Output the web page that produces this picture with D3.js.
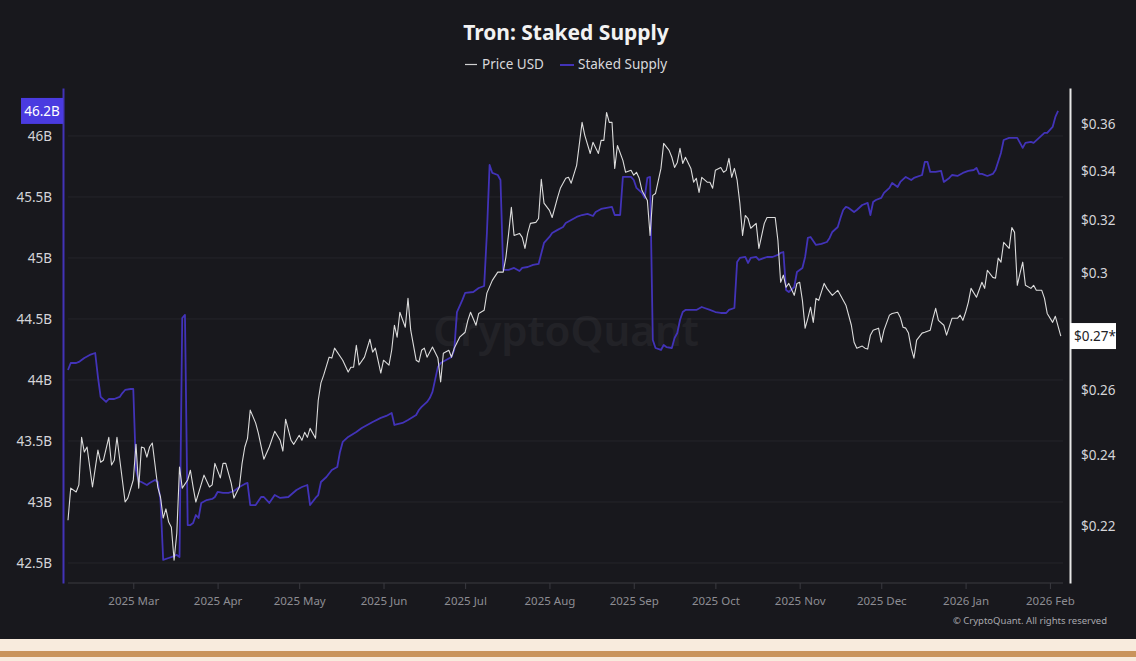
<!DOCTYPE html>
<html>
<head>
<meta charset="utf-8">
<script src="https://cdn.jsdelivr.net/npm/d3@7"></script>
<style>
  html, body { margin: 0; padding: 0; background: #f8ebdd; }
  svg { display: block; font-family: "Noto Sans", sans-serif; }
</style>
</head>
<body>
<svg id="canvas"></svg>
<script>
// one line per month so dates and values stay in step
let priceDates = [
  "2025-02-05","2025-02-06","2025-02-08","2025-02-09","2025-02-10","2025-02-11","2025-02-12","2025-02-14","2025-02-16","2025-02-17","2025-02-18","2025-02-20","2025-02-21","2025-02-22","2025-02-23","2025-02-26","2025-02-27",
  "2025-03-01","2025-03-02","2025-03-03","2025-03-04","2025-03-05","2025-03-06","2025-03-07","2025-03-08","2025-03-10","2025-03-11","2025-03-12","2025-03-13","2025-03-14","2025-03-15","2025-03-16","2025-03-17","2025-03-18","2025-03-19","2025-03-21","2025-03-22","2025-03-23","2025-03-24","2025-03-25","2025-03-27","2025-03-29","2025-03-30","2025-03-31",
  "2025-04-02","2025-04-03","2025-04-04","2025-04-06","2025-04-07","2025-04-09","2025-04-10","2025-04-11","2025-04-12","2025-04-13","2025-04-15","2025-04-16","2025-04-18","2025-04-20","2025-04-22","2025-04-24","2025-04-25","2025-04-26","2025-04-28","2025-04-29",
  "2025-05-01","2025-05-02","2025-05-03","2025-05-04","2025-05-05","2025-05-07","2025-05-08","2025-05-09","2025-05-10","2025-05-12","2025-05-13","2025-05-14","2025-05-17","2025-05-19","2025-05-20","2025-05-21","2025-05-22","2025-05-23","2025-05-25","2025-05-27","2025-05-28","2025-05-29","2025-05-31",
  "2025-06-01","2025-06-03","2025-06-04","2025-06-05","2025-06-06","2025-06-07","2025-06-09","2025-06-10","2025-06-11","2025-06-13","2025-06-14","2025-06-15","2025-06-16","2025-06-17","2025-06-19","2025-06-21","2025-06-22","2025-06-23","2025-06-25","2025-06-26","2025-06-27","2025-06-29",
  "2025-07-01","2025-07-02","2025-07-03","2025-07-05","2025-07-06","2025-07-08","2025-07-09","2025-07-11","2025-07-13","2025-07-15","2025-07-16","2025-07-17","2025-07-18","2025-07-19","2025-07-21","2025-07-22","2025-07-23","2025-07-24","2025-07-25","2025-07-27","2025-07-28","2025-07-29","2025-07-30",
  "2025-08-01","2025-08-02","2025-08-04","2025-08-05","2025-08-07","2025-08-08","2025-08-09","2025-08-11","2025-08-13","2025-08-14","2025-08-16","2025-08-17","2025-08-19","2025-08-20","2025-08-21","2025-08-22","2025-08-23","2025-08-24","2025-08-25","2025-08-26","2025-08-28","2025-08-29","2025-08-31",
  "2025-09-01","2025-09-02","2025-09-03","2025-09-04","2025-09-06","2025-09-07","2025-09-08","2025-09-09","2025-09-11","2025-09-12","2025-09-14","2025-09-15","2025-09-16","2025-09-17","2025-09-18","2025-09-19","2025-09-20","2025-09-22","2025-09-23","2025-09-24","2025-09-25","2025-09-26","2025-09-28","2025-09-29","2025-09-30",
  "2025-10-01","2025-10-03","2025-10-04","2025-10-05","2025-10-06","2025-10-07","2025-10-08","2025-10-09","2025-10-10","2025-10-11","2025-10-12","2025-10-13","2025-10-14","2025-10-16","2025-10-17","2025-10-19","2025-10-20","2025-10-22","2025-10-23","2025-10-24","2025-10-25","2025-10-26","2025-10-27","2025-10-28","2025-10-30","2025-10-31",
  "2025-11-01","2025-11-02","2025-11-03","2025-11-04","2025-11-05","2025-11-06","2025-11-07","2025-11-08","2025-11-10","2025-11-11","2025-11-13","2025-11-15","2025-11-16","2025-11-18","2025-11-20","2025-11-21","2025-11-22","2025-11-24","2025-11-25","2025-11-26","2025-11-27","2025-11-28","2025-11-30",
  "2025-12-01","2025-12-02","2025-12-04","2025-12-05","2025-12-07","2025-12-08","2025-12-09","2025-12-10","2025-12-11","2025-12-12","2025-12-13","2025-12-14","2025-12-16","2025-12-17","2025-12-19","2025-12-20","2025-12-21","2025-12-22","2025-12-24","2025-12-25","2025-12-27","2025-12-29","2025-12-30","2025-12-31",
  "2026-01-01","2026-01-02","2026-01-03","2026-01-05","2026-01-07","2026-01-08","2026-01-09","2026-01-11","2026-01-12","2026-01-13","2026-01-14","2026-01-15","2026-01-17","2026-01-18","2026-01-19","2026-01-20","2026-01-21","2026-01-22","2026-01-23","2026-01-25","2026-01-26","2026-01-27","2026-01-29","2026-01-30","2026-01-31",
  "2026-02-02","2026-02-03","2026-02-05"
]

let priceValues = [
  0.2217,0.2306,0.2295,0.2315,0.2454,0.2410,0.2425,0.2309,0.2416,0.2380,0.2386,0.2454,0.2372,0.2386,0.2454,0.2267,0.2278,
  0.2329,0.2433,0.2306,0.2425,0.2422,0.2395,0.2425,0.2437,0.2309,0.2281,0.2223,0.2248,0.2212,0.2198,0.2111,0.2182,0.2366,0.2306,0.2329,0.2357,0.2309,0.2267,0.2292,0.2343,0.2309,0.2315,0.2377,
  0.2335,0.2377,0.2377,0.2320,0.2278,0.2309,0.2377,0.2425,0.2451,0.2537,0.2497,0.2466,0.2389,0.2425,0.2472,0.2445,0.2413,0.2509,0.2445,0.2433,
  0.2460,0.2445,0.2469,0.2454,0.2481,0.2451,0.2568,0.2623,0.2648,0.2707,0.2704,0.2737,0.2697,0.2658,0.2674,0.2674,0.2747,0.2681,0.2707,0.2767,0.2724,0.2737,0.2655,
  0.2697,0.2681,0.2730,0.2815,0.2774,0.2860,0.2808,0.2909,0.2798,0.2697,0.2691,0.2730,0.2737,0.2707,0.2741,0.2704,0.2626,0.2720,0.2730,0.2707,0.2737,0.2774,
  0.2791,0.2832,0.2860,0.2815,0.2856,0.2867,0.2928,0.2974,0.3004,0.3004,0.3060,0.3150,0.3252,0.3142,0.3150,0.3135,0.3093,0.3150,0.3189,0.3193,0.3208,0.3366,0.3269,
  0.3240,0.3212,0.3292,0.3329,0.3370,0.3374,0.3350,0.3424,0.3609,0.3552,0.3474,0.3522,0.3474,0.3530,0.3530,0.3653,0.3609,0.3609,0.3411,0.3508,0.3445,0.3395,0.3403,
  0.3383,0.3395,0.3370,0.3321,0.3280,0.3142,0.3300,0.3308,0.3411,0.3517,0.3487,0.3458,0.3415,0.3436,0.3496,0.3432,0.3458,0.3411,0.3354,0.3370,0.3312,0.3374,0.3354,0.3354,0.3329,
  0.3403,0.3415,0.3395,0.3403,0.3453,0.3374,0.3411,0.3362,0.3269,0.3142,0.3220,0.3208,0.3170,0.3189,0.3093,0.3189,0.3212,0.3212,0.3212,0.3123,0.2967,0.2993,0.2949,0.2963,0.2920,0.2963,
  0.2967,0.2902,0.2805,0.2839,0.2878,0.2825,0.2909,0.2902,0.2963,0.2945,0.2920,0.2938,0.2920,0.2885,0.2815,0.2757,0.2737,0.2744,0.2737,0.2734,0.2781,0.2798,0.2805,
  0.2757,0.2798,0.2850,0.2856,0.2860,0.2842,0.2808,0.2805,0.2788,0.2737,0.2704,0.2764,0.2788,0.2791,0.2798,0.2839,0.2874,0.2832,0.2815,0.2781,0.2839,0.2839,0.2850,0.2832,
  0.2860,0.2895,0.2945,0.2913,0.2967,0.2945,0.3011,0.2985,0.2982,0.3056,0.3041,0.3116,0.3093,0.3173,0.3154,0.2956,0.3000,0.3041,0.2956,0.2945,0.2956,0.2938,0.2938,0.2909,0.2856,
  0.2825,0.2846,0.2778
]

let stakedDates = [
  "2025-02-05","2025-02-06","2025-02-08","2025-02-09","2025-02-10","2025-02-11","2025-02-13","2025-02-15","2025-02-16","2025-02-17","2025-02-19","2025-02-20","2025-02-22","2025-02-24","2025-02-25","2025-02-26","2025-02-28",
  "2025-03-01","2025-03-02","2025-03-03","2025-03-04","2025-03-06","2025-03-07","2025-03-09","2025-03-10","2025-03-11","2025-03-12","2025-03-14","2025-03-16","2025-03-17","2025-03-18","2025-03-19","2025-03-20","2025-03-21","2025-03-22","2025-03-23","2025-03-24","2025-03-25","2025-03-26","2025-03-28","2025-03-30","2025-03-31",
  "2025-04-01","2025-04-03","2025-04-05","2025-04-06","2025-04-07","2025-04-09","2025-04-11","2025-04-12","2025-04-13","2025-04-15","2025-04-17","2025-04-18","2025-04-20","2025-04-22","2025-04-24","2025-04-27","2025-04-30",
  "2025-05-02","2025-05-04","2025-05-05","2025-05-07","2025-05-08","2025-05-09","2025-05-11","2025-05-13","2025-05-15","2025-05-16","2025-05-17","2025-05-19","2025-05-22","2025-05-24","2025-05-26","2025-05-28","2025-05-31",
  "2025-06-02","2025-06-04","2025-06-05","2025-06-08","2025-06-10","2025-06-13","2025-06-14","2025-06-15","2025-06-17","2025-06-18","2025-06-19","2025-06-21","2025-06-22","2025-06-24","2025-06-26","2025-06-27","2025-06-28","2025-06-30",
  "2025-07-01","2025-07-04","2025-07-06","2025-07-08","2025-07-09","2025-07-10","2025-07-11","2025-07-13","2025-07-14","2025-07-15","2025-07-17","2025-07-19","2025-07-21","2025-07-22","2025-07-24","2025-07-26","2025-07-28","2025-07-30",
  "2025-08-01","2025-08-02","2025-08-04","2025-08-06","2025-08-07","2025-08-09","2025-08-11","2025-08-13","2025-08-15","2025-08-17","2025-08-18","2025-08-20","2025-08-22","2025-08-24","2025-08-25","2025-08-27","2025-08-28","2025-08-29","2025-08-31",
  "2025-09-01","2025-09-02","2025-09-04","2025-09-05","2025-09-06","2025-09-07","2025-09-08","2025-09-09","2025-09-11","2025-09-12","2025-09-13","2025-09-15","2025-09-16","2025-09-17","2025-09-18","2025-09-19","2025-09-20","2025-09-22","2025-09-24","2025-09-26","2025-09-27","2025-09-29",
  "2025-10-01","2025-10-03","2025-10-05","2025-10-06","2025-10-08","2025-10-09","2025-10-10","2025-10-12","2025-10-13","2025-10-14","2025-10-16","2025-10-17","2025-10-19","2025-10-20","2025-10-22","2025-10-24","2025-10-25","2025-10-26","2025-10-27","2025-10-28","2025-10-30","2025-10-31",
  "2025-11-02","2025-11-03","2025-11-04","2025-11-05","2025-11-07","2025-11-09","2025-11-11","2025-11-12","2025-11-13","2025-11-15","2025-11-16","2025-11-17","2025-11-18","2025-11-19","2025-11-21","2025-11-22","2025-11-24","2025-11-26","2025-11-27","2025-11-28","2025-11-29",
  "2025-12-01","2025-12-02","2025-12-04","2025-12-05","2025-12-07","2025-12-08","2025-12-10","2025-12-12","2025-12-13","2025-12-16","2025-12-17","2025-12-18","2025-12-19","2025-12-21","2025-12-23","2025-12-24","2025-12-26","2025-12-27","2025-12-29","2025-12-31",
  "2026-01-02","2026-01-04","2026-01-05","2026-01-06","2026-01-07","2026-01-09","2026-01-11","2026-01-12","2026-01-14","2026-01-15","2026-01-17","2026-01-20","2026-01-22","2026-01-23","2026-01-25","2026-01-26","2026-01-28","2026-01-30","2026-01-31",
  "2026-02-02","2026-02-03","2026-02-04"
]

// billions
let stakedValues = [
  44.082,44.139,44.139,44.148,44.164,44.180,44.205,44.221,44.025,43.861,43.820,43.844,43.844,43.861,43.893,43.918,43.926,
  43.926,43.262,43.172,43.164,43.139,43.156,43.180,43.164,43.016,42.525,42.541,42.557,42.566,42.549,44.508,44.533,42.811,42.811,42.828,42.893,42.869,42.992,43.016,43.025,43.041,
  43.082,43.074,43.074,43.082,43.090,43.123,43.148,43.156,42.975,42.975,43.041,43.041,42.992,43.057,43.033,43.041,43.098,
  43.123,43.139,42.975,43.033,43.057,43.164,43.205,43.262,43.287,43.410,43.492,43.533,43.574,43.607,43.631,43.656,43.689,
  43.705,43.730,43.631,43.648,43.672,43.713,43.754,43.779,43.820,43.852,43.902,44.107,44.139,44.164,44.189,44.246,44.557,44.656,
  44.713,44.721,44.754,44.770,45.200,45.762,45.697,45.680,45.639,44.902,44.902,44.918,44.893,44.918,44.926,44.943,44.951,45.123,
  45.172,45.205,45.230,45.254,45.287,45.311,45.336,45.352,45.361,45.344,45.377,45.402,45.410,45.418,45.352,45.352,45.664,45.664,45.664,
  45.639,45.574,45.533,45.492,45.656,45.664,44.328,44.262,44.246,44.287,44.270,44.262,44.344,44.385,44.492,44.557,44.574,44.574,44.574,44.598,44.590,44.574,
  44.557,44.549,44.549,44.574,44.590,44.967,45.000,45.008,44.959,45.000,45.008,44.984,45.000,45.008,45.008,45.025,45.041,45.049,44.738,44.721,44.762,44.885,
  44.918,45.008,45.164,45.172,45.107,45.115,45.131,45.164,45.213,45.254,45.328,45.393,45.418,45.410,45.377,45.393,45.434,45.451,45.352,45.459,45.475,
  45.492,45.533,45.574,45.615,45.582,45.623,45.664,45.639,45.656,45.680,45.787,45.787,45.705,45.705,45.713,45.623,45.656,45.680,45.672,45.697,
  45.713,45.721,45.738,45.689,45.689,45.672,45.689,45.721,45.861,45.967,45.984,45.984,45.902,45.943,45.951,45.943,45.984,46.025,46.025,
  46.074,46.156,46.205
]

let stakedTicks = [42.5, 43, 43.5, 44, 44.5, 45, 45.5, 46]
// 0.28 sits under the last-price flag, so it is not labelled
let priceTicks = [0.22, 0.24, 0.26, 0.3, 0.32, 0.34, 0.36]

let width = 1136
let height = 661

let purple = "#4233b8"

let parseDate = d3.timeParse("%Y-%m-%d")

let priceData = priceDates.map((d, i) => ({ date: parseDate(d), value: priceValues[i] }))
let stakedData = stakedDates.map((d, i) => ({ date: parseDate(d), value: stakedValues[i] }))

let canvas = d3.select("#canvas")
               .attr("width", width)
               .attr("height", height)

// dark card plus the cream / tan strip below it
canvas.append("rect").attr("width", width).attr("height", 639).attr("fill", "#18181d")
canvas.append("rect").attr("y", 639).attr("width", width).attr("height", 12).attr("fill", "#f8ebdd")
canvas.append("rect").attr("y", 651).attr("width", width).attr("height", 6).attr("fill", "#c9945c")

let xScale = d3.scaleTime()
               .domain([parseDate("2025-02-05"), parseDate("2026-02-05")])
               .range([68, 1060.8])

let stakedScale = d3.scaleLinear()
                    .domain([42.336, 46.393])
                    .range([583, 88])

let priceScale = d3.scaleLog()
                   .domain([0.2053, 0.3764])
                   .range([583, 88])

// grid follows the left axis
canvas.append("g")
      .selectAll("line")
      .data(stakedTicks)
      .enter()
      .append("line")
      .attr("x1", 68)
      .attr("x2", 1063)
      .attr("y1", d => stakedScale(d))
      .attr("y2", d => stakedScale(d))
      .attr("stroke", "#25252b")
      .attr("stroke-width", 1)

// watermark
canvas.append("text")
      .attr("x", 566)
      .attr("y", 346)
      .attr("text-anchor", "middle")
      .attr("font-size", 42)
      .attr("font-weight", 600)
      .attr("fill", "#ffffff")
      .attr("opacity", 0.045)
      .text("CryptoQuant")

let xAxis = d3.axisBottom(xScale)
              .ticks(d3.timeMonth.every(1))
              .tickFormat(d3.timeFormat("%Y %b"))
              .tickSize(6)
              .tickSizeOuter(0)
              .tickPadding(8)

let xAxisG = canvas.append("g")
                   .attr("transform", "translate(0,583)")
                   .call(xAxis)
xAxisG.select(".domain").attr("stroke", "#3a3a40").attr("d", "M68,0H1063")
xAxisG.selectAll(".tick line").attr("stroke", "#3a3a40")
xAxisG.selectAll("text")
      .attr("fill", "#8d8d93")
      .attr("font-size", 11.5)
      .attr("font-family", "Noto Sans, sans-serif")

let leftAxis = d3.axisLeft(stakedScale)
                 .tickValues(stakedTicks)
                 .tickFormat(d => d + "B")
                 .tickSize(0)
                 .tickPadding(11)

let leftG = canvas.append("g")
                  .attr("transform", "translate(63,0)")
                  .call(leftAxis)
leftG.select(".domain").attr("stroke", purple).attr("stroke-width", 2)
leftG.selectAll("text")
     .attr("fill", "#d4d4d8")
     .attr("font-size", 13.5)
     .attr("font-family", "Noto Sans, sans-serif")

let rightAxis = d3.axisRight(priceScale)
                  .tickValues(priceTicks)
                  .tickFormat(d => "$" + (+d.toFixed(2)))
                  .tickSize(0)
                  .tickPadding(11)

let rightG = canvas.append("g")
                   .attr("transform", "translate(1070,0)")
                   .call(rightAxis)
rightG.select(".domain").attr("stroke", "#e6e6e6").attr("stroke-width", 2)
rightG.selectAll("text")
      .attr("fill", "#d4d4d8")
      .attr("font-size", 13.5)
      .attr("font-family", "Noto Sans, sans-serif")

let stakedLine = d3.line()
                   .x(d => xScale(d.date))
                   .y(d => stakedScale(d.value))

let priceLine = d3.line()
                  .x(d => xScale(d.date))
                  .y(d => priceScale(d.value))

canvas.append("path")
      .datum(stakedData)
      .attr("d", stakedLine)
      .attr("fill", "none")
      .attr("stroke", purple)
      .attr("stroke-width", 1.8)
      .attr("stroke-linejoin", "round")

canvas.append("path")
      .datum(priceData)
      .attr("d", priceLine)
      .attr("fill", "none")
      .attr("stroke", "#dcdcdc")
      .attr("stroke-width", 1.1)
      .attr("stroke-linejoin", "round")

// last value flags on both axes
let lastStaked = stakedData[stakedData.length - 1]
let lastPrice = priceData[priceData.length - 1]

let sy = stakedScale(lastStaked.value)
canvas.append("rect")
      .attr("x", 21).attr("y", sy - 13)
      .attr("width", 42).attr("height", 26)
      .attr("fill", "#4a3be0")
canvas.append("text")
      .attr("x", 42).attr("y", sy + 5)
      .attr("text-anchor", "middle")
      .attr("font-size", 13.5)
      .attr("fill", "#ffffff")
      .text(d3.format(".1f")(lastStaked.value) + "B")

let py = priceScale(lastPrice.value)
canvas.append("rect")
      .attr("x", 1070).attr("y", py - 13)
      .attr("width", 46).attr("height", 26)
      .attr("fill", "#ffffff")
canvas.append("text")
      .attr("x", 1074).attr("y", py + 5)
      .attr("font-size", 13.5)
      .attr("fill", "#222226")
      .text("$" + (Math.floor(lastPrice.value * 100) / 100).toFixed(2) + "*")

// title and legend
canvas.append("text")
      .attr("x", 566).attr("y", 40)
      .attr("text-anchor", "middle")
      .attr("font-size", 21)
      .attr("font-weight", 700)
      .attr("fill", "#f2f2f2")
      .text("Tron: Staked Supply")

canvas.append("line")
      .attr("x1", 465).attr("x2", 477).attr("y1", 64.5).attr("y2", 64.5)
      .attr("stroke", "#d0d0d0").attr("stroke-width", 1.2)
canvas.append("text")
      .attr("x", 482).attr("y", 69)
      .attr("font-size", 13.5)
      .attr("fill", "#d8d8dc")
      .text("Price USD")

canvas.append("line")
      .attr("x1", 560).attr("x2", 574).attr("y1", 65).attr("y2", 65)
      .attr("stroke", purple).attr("stroke-width", 2)
canvas.append("text")
      .attr("x", 578).attr("y", 69)
      .attr("font-size", 13.5)
      .attr("fill", "#d8d8dc")
      .text("Staked Supply")

canvas.append("text")
      .attr("x", 1107).attr("y", 624)
      .attr("text-anchor", "end")
      .attr("font-size", 9.5)
      .attr("fill", "#a8a8ae")
      .text("© CryptoQuant. All rights reserved")
</script>
</body>
</html>
